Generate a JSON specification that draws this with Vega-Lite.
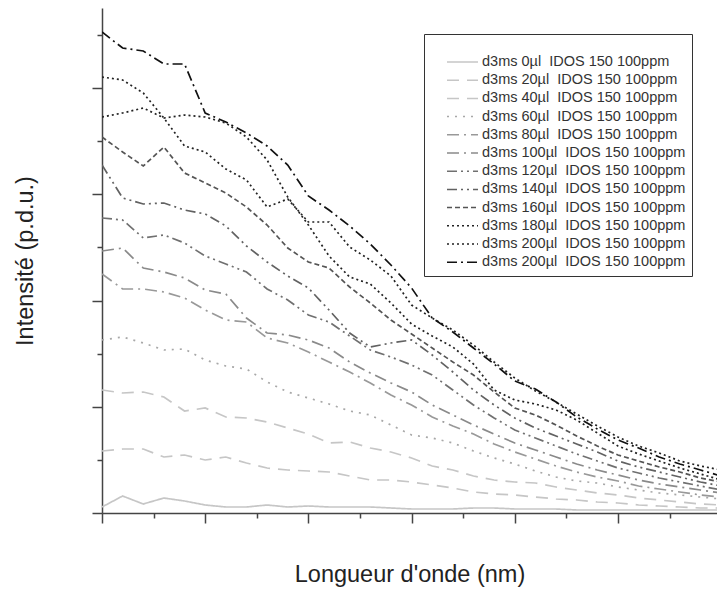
{"$schema":"https://vega.github.io/schema/vega-lite/v6.json","width":615,"height":505,"autosize":{"type":"none"},"padding":{"left":102,"top":8,"right":0,"bottom":79},"background":"white","config":{"view":{"stroke":null},"font":"Liberation Sans"},
"datasets":{"spectres":[
{"serie":"d3ms 0µl\u00a0 IDOS 150 100ppm","nm":300,"intensite":6},{"serie":"d3ms 0µl\u00a0 IDOS 150 100ppm","nm":305,"intensite":17},{"serie":"d3ms 0µl\u00a0 IDOS 150 100ppm","nm":310,"intensite":9},{"serie":"d3ms 0µl\u00a0 IDOS 150 100ppm","nm":315,"intensite":15},{"serie":"d3ms 0µl\u00a0 IDOS 150 100ppm","nm":320,"intensite":12},{"serie":"d3ms 0µl\u00a0 IDOS 150 100ppm","nm":325,"intensite":8},{"serie":"d3ms 0µl\u00a0 IDOS 150 100ppm","nm":330,"intensite":6},{"serie":"d3ms 0µl\u00a0 IDOS 150 100ppm","nm":335,"intensite":6},{"serie":"d3ms 0µl\u00a0 IDOS 150 100ppm","nm":340,"intensite":8},{"serie":"d3ms 0µl\u00a0 IDOS 150 100ppm","nm":345,"intensite":6},{"serie":"d3ms 0µl\u00a0 IDOS 150 100ppm","nm":350,"intensite":7},{"serie":"d3ms 0µl\u00a0 IDOS 150 100ppm","nm":355,"intensite":6},{"serie":"d3ms 0µl\u00a0 IDOS 150 100ppm","nm":360,"intensite":6},{"serie":"d3ms 0µl\u00a0 IDOS 150 100ppm","nm":365,"intensite":6},{"serie":"d3ms 0µl\u00a0 IDOS 150 100ppm","nm":370,"intensite":5},{"serie":"d3ms 0µl\u00a0 IDOS 150 100ppm","nm":375,"intensite":4},{"serie":"d3ms 0µl\u00a0 IDOS 150 100ppm","nm":380,"intensite":4},{"serie":"d3ms 0µl\u00a0 IDOS 150 100ppm","nm":385,"intensite":4},{"serie":"d3ms 0µl\u00a0 IDOS 150 100ppm","nm":390,"intensite":5},{"serie":"d3ms 0µl\u00a0 IDOS 150 100ppm","nm":395,"intensite":5},{"serie":"d3ms 0µl\u00a0 IDOS 150 100ppm","nm":400,"intensite":4},{"serie":"d3ms 0µl\u00a0 IDOS 150 100ppm","nm":405,"intensite":4},{"serie":"d3ms 0µl\u00a0 IDOS 150 100ppm","nm":410,"intensite":4},{"serie":"d3ms 0µl\u00a0 IDOS 150 100ppm","nm":415,"intensite":3},{"serie":"d3ms 0µl\u00a0 IDOS 150 100ppm","nm":420,"intensite":3},{"serie":"d3ms 0µl\u00a0 IDOS 150 100ppm","nm":425,"intensite":3},{"serie":"d3ms 0µl\u00a0 IDOS 150 100ppm","nm":430,"intensite":3},{"serie":"d3ms 0µl\u00a0 IDOS 150 100ppm","nm":435,"intensite":3},{"serie":"d3ms 0µl\u00a0 IDOS 150 100ppm","nm":440,"intensite":3},{"serie":"d3ms 0µl\u00a0 IDOS 150 100ppm","nm":445,"intensite":3},{"serie":"d3ms 0µl\u00a0 IDOS 150 100ppm","nm":450,"intensite":3},
{"serie":"d3ms 20µl\u00a0 IDOS 150 100ppm","nm":300,"intensite":62},{"serie":"d3ms 20µl\u00a0 IDOS 150 100ppm","nm":305,"intensite":64},{"serie":"d3ms 20µl\u00a0 IDOS 150 100ppm","nm":310,"intensite":64},{"serie":"d3ms 20µl\u00a0 IDOS 150 100ppm","nm":315,"intensite":56},{"serie":"d3ms 20µl\u00a0 IDOS 150 100ppm","nm":320,"intensite":58},{"serie":"d3ms 20µl\u00a0 IDOS 150 100ppm","nm":325,"intensite":53},{"serie":"d3ms 20µl\u00a0 IDOS 150 100ppm","nm":330,"intensite":56},{"serie":"d3ms 20µl\u00a0 IDOS 150 100ppm","nm":335,"intensite":50},{"serie":"d3ms 20µl\u00a0 IDOS 150 100ppm","nm":340,"intensite":45},{"serie":"d3ms 20µl\u00a0 IDOS 150 100ppm","nm":345,"intensite":43},{"serie":"d3ms 20µl\u00a0 IDOS 150 100ppm","nm":350,"intensite":42},{"serie":"d3ms 20µl\u00a0 IDOS 150 100ppm","nm":355,"intensite":41},{"serie":"d3ms 20µl\u00a0 IDOS 150 100ppm","nm":360,"intensite":37},{"serie":"d3ms 20µl\u00a0 IDOS 150 100ppm","nm":365,"intensite":33},{"serie":"d3ms 20µl\u00a0 IDOS 150 100ppm","nm":370,"intensite":33},{"serie":"d3ms 20µl\u00a0 IDOS 150 100ppm","nm":375,"intensite":31},{"serie":"d3ms 20µl\u00a0 IDOS 150 100ppm","nm":380,"intensite":28},{"serie":"d3ms 20µl\u00a0 IDOS 150 100ppm","nm":385,"intensite":25},{"serie":"d3ms 20µl\u00a0 IDOS 150 100ppm","nm":390,"intensite":21},{"serie":"d3ms 20µl\u00a0 IDOS 150 100ppm","nm":395,"intensite":19},{"serie":"d3ms 20µl\u00a0 IDOS 150 100ppm","nm":400,"intensite":18},{"serie":"d3ms 20µl\u00a0 IDOS 150 100ppm","nm":405,"intensite":16},{"serie":"d3ms 20µl\u00a0 IDOS 150 100ppm","nm":410,"intensite":14},{"serie":"d3ms 20µl\u00a0 IDOS 150 100ppm","nm":415,"intensite":13},{"serie":"d3ms 20µl\u00a0 IDOS 150 100ppm","nm":420,"intensite":11},{"serie":"d3ms 20µl\u00a0 IDOS 150 100ppm","nm":425,"intensite":10},{"serie":"d3ms 20µl\u00a0 IDOS 150 100ppm","nm":430,"intensite":8},{"serie":"d3ms 20µl\u00a0 IDOS 150 100ppm","nm":435,"intensite":7},{"serie":"d3ms 20µl\u00a0 IDOS 150 100ppm","nm":440,"intensite":6},{"serie":"d3ms 20µl\u00a0 IDOS 150 100ppm","nm":445,"intensite":5},{"serie":"d3ms 20µl\u00a0 IDOS 150 100ppm","nm":450,"intensite":5},
{"serie":"d3ms 40µl\u00a0 IDOS 150 100ppm","nm":300,"intensite":123},{"serie":"d3ms 40µl\u00a0 IDOS 150 100ppm","nm":305,"intensite":120},{"serie":"d3ms 40µl\u00a0 IDOS 150 100ppm","nm":310,"intensite":121},{"serie":"d3ms 40µl\u00a0 IDOS 150 100ppm","nm":315,"intensite":116},{"serie":"d3ms 40µl\u00a0 IDOS 150 100ppm","nm":320,"intensite":102},{"serie":"d3ms 40µl\u00a0 IDOS 150 100ppm","nm":325,"intensite":105},{"serie":"d3ms 40µl\u00a0 IDOS 150 100ppm","nm":330,"intensite":96},{"serie":"d3ms 40µl\u00a0 IDOS 150 100ppm","nm":335,"intensite":95},{"serie":"d3ms 40µl\u00a0 IDOS 150 100ppm","nm":340,"intensite":91},{"serie":"d3ms 40µl\u00a0 IDOS 150 100ppm","nm":345,"intensite":85},{"serie":"d3ms 40µl\u00a0 IDOS 150 100ppm","nm":350,"intensite":79},{"serie":"d3ms 40µl\u00a0 IDOS 150 100ppm","nm":355,"intensite":70},{"serie":"d3ms 40µl\u00a0 IDOS 150 100ppm","nm":360,"intensite":71},{"serie":"d3ms 40µl\u00a0 IDOS 150 100ppm","nm":365,"intensite":65},{"serie":"d3ms 40µl\u00a0 IDOS 150 100ppm","nm":370,"intensite":61},{"serie":"d3ms 40µl\u00a0 IDOS 150 100ppm","nm":375,"intensite":55},{"serie":"d3ms 40µl\u00a0 IDOS 150 100ppm","nm":380,"intensite":47},{"serie":"d3ms 40µl\u00a0 IDOS 150 100ppm","nm":385,"intensite":43},{"serie":"d3ms 40µl\u00a0 IDOS 150 100ppm","nm":390,"intensite":37},{"serie":"d3ms 40µl\u00a0 IDOS 150 100ppm","nm":395,"intensite":33},{"serie":"d3ms 40µl\u00a0 IDOS 150 100ppm","nm":400,"intensite":31},{"serie":"d3ms 40µl\u00a0 IDOS 150 100ppm","nm":405,"intensite":30},{"serie":"d3ms 40µl\u00a0 IDOS 150 100ppm","nm":410,"intensite":26},{"serie":"d3ms 40µl\u00a0 IDOS 150 100ppm","nm":415,"intensite":23},{"serie":"d3ms 40µl\u00a0 IDOS 150 100ppm","nm":420,"intensite":20},{"serie":"d3ms 40µl\u00a0 IDOS 150 100ppm","nm":425,"intensite":18},{"serie":"d3ms 40µl\u00a0 IDOS 150 100ppm","nm":430,"intensite":15},{"serie":"d3ms 40µl\u00a0 IDOS 150 100ppm","nm":435,"intensite":13},{"serie":"d3ms 40µl\u00a0 IDOS 150 100ppm","nm":440,"intensite":11},{"serie":"d3ms 40µl\u00a0 IDOS 150 100ppm","nm":445,"intensite":9},{"serie":"d3ms 40µl\u00a0 IDOS 150 100ppm","nm":450,"intensite":8},
{"serie":"d3ms 60µl\u00a0 IDOS 150 100ppm","nm":300,"intensite":173},{"serie":"d3ms 60µl\u00a0 IDOS 150 100ppm","nm":305,"intensite":176},{"serie":"d3ms 60µl\u00a0 IDOS 150 100ppm","nm":310,"intensite":170},{"serie":"d3ms 60µl\u00a0 IDOS 150 100ppm","nm":315,"intensite":163},{"serie":"d3ms 60µl\u00a0 IDOS 150 100ppm","nm":320,"intensite":164},{"serie":"d3ms 60µl\u00a0 IDOS 150 100ppm","nm":325,"intensite":153},{"serie":"d3ms 60µl\u00a0 IDOS 150 100ppm","nm":330,"intensite":147},{"serie":"d3ms 60µl\u00a0 IDOS 150 100ppm","nm":335,"intensite":144},{"serie":"d3ms 60µl\u00a0 IDOS 150 100ppm","nm":340,"intensite":131},{"serie":"d3ms 60µl\u00a0 IDOS 150 100ppm","nm":345,"intensite":121},{"serie":"d3ms 60µl\u00a0 IDOS 150 100ppm","nm":350,"intensite":115},{"serie":"d3ms 60µl\u00a0 IDOS 150 100ppm","nm":355,"intensite":109},{"serie":"d3ms 60µl\u00a0 IDOS 150 100ppm","nm":360,"intensite":102},{"serie":"d3ms 60µl\u00a0 IDOS 150 100ppm","nm":365,"intensite":98},{"serie":"d3ms 60µl\u00a0 IDOS 150 100ppm","nm":370,"intensite":88},{"serie":"d3ms 60µl\u00a0 IDOS 150 100ppm","nm":375,"intensite":78},{"serie":"d3ms 60µl\u00a0 IDOS 150 100ppm","nm":380,"intensite":75},{"serie":"d3ms 60µl\u00a0 IDOS 150 100ppm","nm":385,"intensite":70},{"serie":"d3ms 60µl\u00a0 IDOS 150 100ppm","nm":390,"intensite":62},{"serie":"d3ms 60µl\u00a0 IDOS 150 100ppm","nm":395,"intensite":55},{"serie":"d3ms 60µl\u00a0 IDOS 150 100ppm","nm":400,"intensite":49},{"serie":"d3ms 60µl\u00a0 IDOS 150 100ppm","nm":405,"intensite":42},{"serie":"d3ms 60µl\u00a0 IDOS 150 100ppm","nm":410,"intensite":36},{"serie":"d3ms 60µl\u00a0 IDOS 150 100ppm","nm":415,"intensite":32},{"serie":"d3ms 60µl\u00a0 IDOS 150 100ppm","nm":420,"intensite":30},{"serie":"d3ms 60µl\u00a0 IDOS 150 100ppm","nm":425,"intensite":26},{"serie":"d3ms 60µl\u00a0 IDOS 150 100ppm","nm":430,"intensite":23},{"serie":"d3ms 60µl\u00a0 IDOS 150 100ppm","nm":435,"intensite":20},{"serie":"d3ms 60µl\u00a0 IDOS 150 100ppm","nm":440,"intensite":18},{"serie":"d3ms 60µl\u00a0 IDOS 150 100ppm","nm":445,"intensite":16},{"serie":"d3ms 60µl\u00a0 IDOS 150 100ppm","nm":450,"intensite":14},
{"serie":"d3ms 80µl\u00a0 IDOS 150 100ppm","nm":300,"intensite":239},{"serie":"d3ms 80µl\u00a0 IDOS 150 100ppm","nm":305,"intensite":224},{"serie":"d3ms 80µl\u00a0 IDOS 150 100ppm","nm":310,"intensite":224},{"serie":"d3ms 80µl\u00a0 IDOS 150 100ppm","nm":315,"intensite":221},{"serie":"d3ms 80µl\u00a0 IDOS 150 100ppm","nm":320,"intensite":215},{"serie":"d3ms 80µl\u00a0 IDOS 150 100ppm","nm":325,"intensite":203},{"serie":"d3ms 80µl\u00a0 IDOS 150 100ppm","nm":330,"intensite":193},{"serie":"d3ms 80µl\u00a0 IDOS 150 100ppm","nm":335,"intensite":191},{"serie":"d3ms 80µl\u00a0 IDOS 150 100ppm","nm":340,"intensite":175},{"serie":"d3ms 80µl\u00a0 IDOS 150 100ppm","nm":345,"intensite":170},{"serie":"d3ms 80µl\u00a0 IDOS 150 100ppm","nm":350,"intensite":161},{"serie":"d3ms 80µl\u00a0 IDOS 150 100ppm","nm":355,"intensite":151},{"serie":"d3ms 80µl\u00a0 IDOS 150 100ppm","nm":360,"intensite":141},{"serie":"d3ms 80µl\u00a0 IDOS 150 100ppm","nm":365,"intensite":130},{"serie":"d3ms 80µl\u00a0 IDOS 150 100ppm","nm":370,"intensite":118},{"serie":"d3ms 80µl\u00a0 IDOS 150 100ppm","nm":375,"intensite":108},{"serie":"d3ms 80µl\u00a0 IDOS 150 100ppm","nm":380,"intensite":96},{"serie":"d3ms 80µl\u00a0 IDOS 150 100ppm","nm":385,"intensite":87},{"serie":"d3ms 80µl\u00a0 IDOS 150 100ppm","nm":390,"intensite":79},{"serie":"d3ms 80µl\u00a0 IDOS 150 100ppm","nm":395,"intensite":69},{"serie":"d3ms 80µl\u00a0 IDOS 150 100ppm","nm":400,"intensite":61},{"serie":"d3ms 80µl\u00a0 IDOS 150 100ppm","nm":405,"intensite":54},{"serie":"d3ms 80µl\u00a0 IDOS 150 100ppm","nm":410,"intensite":47},{"serie":"d3ms 80µl\u00a0 IDOS 150 100ppm","nm":415,"intensite":41},{"serie":"d3ms 80µl\u00a0 IDOS 150 100ppm","nm":420,"intensite":36},{"serie":"d3ms 80µl\u00a0 IDOS 150 100ppm","nm":425,"intensite":32},{"serie":"d3ms 80µl\u00a0 IDOS 150 100ppm","nm":430,"intensite":27},{"serie":"d3ms 80µl\u00a0 IDOS 150 100ppm","nm":435,"intensite":24},{"serie":"d3ms 80µl\u00a0 IDOS 150 100ppm","nm":440,"intensite":21},{"serie":"d3ms 80µl\u00a0 IDOS 150 100ppm","nm":445,"intensite":18},{"serie":"d3ms 80µl\u00a0 IDOS 150 100ppm","nm":450,"intensite":16},
{"serie":"d3ms 100µl\u00a0 IDOS 150 100ppm","nm":300,"intensite":262},{"serie":"d3ms 100µl\u00a0 IDOS 150 100ppm","nm":305,"intensite":265},{"serie":"d3ms 100µl\u00a0 IDOS 150 100ppm","nm":310,"intensite":245},{"serie":"d3ms 100µl\u00a0 IDOS 150 100ppm","nm":315,"intensite":241},{"serie":"d3ms 100µl\u00a0 IDOS 150 100ppm","nm":320,"intensite":235},{"serie":"d3ms 100µl\u00a0 IDOS 150 100ppm","nm":325,"intensite":223},{"serie":"d3ms 100µl\u00a0 IDOS 150 100ppm","nm":330,"intensite":219},{"serie":"d3ms 100µl\u00a0 IDOS 150 100ppm","nm":335,"intensite":195},{"serie":"d3ms 100µl\u00a0 IDOS 150 100ppm","nm":340,"intensite":180},{"serie":"d3ms 100µl\u00a0 IDOS 150 100ppm","nm":345,"intensite":178},{"serie":"d3ms 100µl\u00a0 IDOS 150 100ppm","nm":350,"intensite":173},{"serie":"d3ms 100µl\u00a0 IDOS 150 100ppm","nm":355,"intensite":165},{"serie":"d3ms 100µl\u00a0 IDOS 150 100ppm","nm":360,"intensite":151},{"serie":"d3ms 100µl\u00a0 IDOS 150 100ppm","nm":365,"intensite":140},{"serie":"d3ms 100µl\u00a0 IDOS 150 100ppm","nm":370,"intensite":130},{"serie":"d3ms 100µl\u00a0 IDOS 150 100ppm","nm":375,"intensite":121},{"serie":"d3ms 100µl\u00a0 IDOS 150 100ppm","nm":380,"intensite":108},{"serie":"d3ms 100µl\u00a0 IDOS 150 100ppm","nm":385,"intensite":98},{"serie":"d3ms 100µl\u00a0 IDOS 150 100ppm","nm":390,"intensite":88},{"serie":"d3ms 100µl\u00a0 IDOS 150 100ppm","nm":395,"intensite":79},{"serie":"d3ms 100µl\u00a0 IDOS 150 100ppm","nm":400,"intensite":70},{"serie":"d3ms 100µl\u00a0 IDOS 150 100ppm","nm":405,"intensite":63},{"serie":"d3ms 100µl\u00a0 IDOS 150 100ppm","nm":410,"intensite":56},{"serie":"d3ms 100µl\u00a0 IDOS 150 100ppm","nm":415,"intensite":49},{"serie":"d3ms 100µl\u00a0 IDOS 150 100ppm","nm":420,"intensite":43},{"serie":"d3ms 100µl\u00a0 IDOS 150 100ppm","nm":425,"intensite":38},{"serie":"d3ms 100µl\u00a0 IDOS 150 100ppm","nm":430,"intensite":33},{"serie":"d3ms 100µl\u00a0 IDOS 150 100ppm","nm":435,"intensite":29},{"serie":"d3ms 100µl\u00a0 IDOS 150 100ppm","nm":440,"intensite":26},{"serie":"d3ms 100µl\u00a0 IDOS 150 100ppm","nm":445,"intensite":23},{"serie":"d3ms 100µl\u00a0 IDOS 150 100ppm","nm":450,"intensite":20},
{"serie":"d3ms 120µl\u00a0 IDOS 150 100ppm","nm":300,"intensite":295},{"serie":"d3ms 120µl\u00a0 IDOS 150 100ppm","nm":305,"intensite":293},{"serie":"d3ms 120µl\u00a0 IDOS 150 100ppm","nm":310,"intensite":275},{"serie":"d3ms 120µl\u00a0 IDOS 150 100ppm","nm":315,"intensite":278},{"serie":"d3ms 120µl\u00a0 IDOS 150 100ppm","nm":320,"intensite":270},{"serie":"d3ms 120µl\u00a0 IDOS 150 100ppm","nm":325,"intensite":257},{"serie":"d3ms 120µl\u00a0 IDOS 150 100ppm","nm":330,"intensite":249},{"serie":"d3ms 120µl\u00a0 IDOS 150 100ppm","nm":335,"intensite":241},{"serie":"d3ms 120µl\u00a0 IDOS 150 100ppm","nm":340,"intensite":224},{"serie":"d3ms 120µl\u00a0 IDOS 150 100ppm","nm":345,"intensite":213},{"serie":"d3ms 120µl\u00a0 IDOS 150 100ppm","nm":350,"intensite":198},{"serie":"d3ms 120µl\u00a0 IDOS 150 100ppm","nm":355,"intensite":191},{"serie":"d3ms 120µl\u00a0 IDOS 150 100ppm","nm":360,"intensite":177},{"serie":"d3ms 120µl\u00a0 IDOS 150 100ppm","nm":365,"intensite":163},{"serie":"d3ms 120µl\u00a0 IDOS 150 100ppm","nm":370,"intensite":156},{"serie":"d3ms 120µl\u00a0 IDOS 150 100ppm","nm":375,"intensite":148},{"serie":"d3ms 120µl\u00a0 IDOS 150 100ppm","nm":380,"intensite":138},{"serie":"d3ms 120µl\u00a0 IDOS 150 100ppm","nm":385,"intensite":123},{"serie":"d3ms 120µl\u00a0 IDOS 150 100ppm","nm":390,"intensite":108},{"serie":"d3ms 120µl\u00a0 IDOS 150 100ppm","nm":395,"intensite":95},{"serie":"d3ms 120µl\u00a0 IDOS 150 100ppm","nm":400,"intensite":83},{"serie":"d3ms 120µl\u00a0 IDOS 150 100ppm","nm":405,"intensite":75},{"serie":"d3ms 120µl\u00a0 IDOS 150 100ppm","nm":410,"intensite":67},{"serie":"d3ms 120µl\u00a0 IDOS 150 100ppm","nm":415,"intensite":59},{"serie":"d3ms 120µl\u00a0 IDOS 150 100ppm","nm":420,"intensite":52},{"serie":"d3ms 120µl\u00a0 IDOS 150 100ppm","nm":425,"intensite":45},{"serie":"d3ms 120µl\u00a0 IDOS 150 100ppm","nm":430,"intensite":40},{"serie":"d3ms 120µl\u00a0 IDOS 150 100ppm","nm":435,"intensite":35},{"serie":"d3ms 120µl\u00a0 IDOS 150 100ppm","nm":440,"intensite":31},{"serie":"d3ms 120µl\u00a0 IDOS 150 100ppm","nm":445,"intensite":27},{"serie":"d3ms 120µl\u00a0 IDOS 150 100ppm","nm":450,"intensite":23},
{"serie":"d3ms 140µl\u00a0 IDOS 150 100ppm","nm":300,"intensite":348},{"serie":"d3ms 140µl\u00a0 IDOS 150 100ppm","nm":305,"intensite":315},{"serie":"d3ms 140µl\u00a0 IDOS 150 100ppm","nm":310,"intensite":309},{"serie":"d3ms 140µl\u00a0 IDOS 150 100ppm","nm":315,"intensite":310},{"serie":"d3ms 140µl\u00a0 IDOS 150 100ppm","nm":320,"intensite":303},{"serie":"d3ms 140µl\u00a0 IDOS 150 100ppm","nm":325,"intensite":299},{"serie":"d3ms 140µl\u00a0 IDOS 150 100ppm","nm":330,"intensite":287},{"serie":"d3ms 140µl\u00a0 IDOS 150 100ppm","nm":335,"intensite":267},{"serie":"d3ms 140µl\u00a0 IDOS 150 100ppm","nm":340,"intensite":251},{"serie":"d3ms 140µl\u00a0 IDOS 150 100ppm","nm":345,"intensite":237},{"serie":"d3ms 140µl\u00a0 IDOS 150 100ppm","nm":350,"intensite":225},{"serie":"d3ms 140µl\u00a0 IDOS 150 100ppm","nm":355,"intensite":203},{"serie":"d3ms 140µl\u00a0 IDOS 150 100ppm","nm":360,"intensite":180},{"serie":"d3ms 140µl\u00a0 IDOS 150 100ppm","nm":365,"intensite":166},{"serie":"d3ms 140µl\u00a0 IDOS 150 100ppm","nm":370,"intensite":170},{"serie":"d3ms 140µl\u00a0 IDOS 150 100ppm","nm":375,"intensite":173},{"serie":"d3ms 140µl\u00a0 IDOS 150 100ppm","nm":380,"intensite":158},{"serie":"d3ms 140µl\u00a0 IDOS 150 100ppm","nm":385,"intensite":141},{"serie":"d3ms 140µl\u00a0 IDOS 150 100ppm","nm":390,"intensite":123},{"serie":"d3ms 140µl\u00a0 IDOS 150 100ppm","nm":395,"intensite":108},{"serie":"d3ms 140µl\u00a0 IDOS 150 100ppm","nm":400,"intensite":95},{"serie":"d3ms 140µl\u00a0 IDOS 150 100ppm","nm":405,"intensite":85},{"serie":"d3ms 140µl\u00a0 IDOS 150 100ppm","nm":410,"intensite":77},{"serie":"d3ms 140µl\u00a0 IDOS 150 100ppm","nm":415,"intensite":69},{"serie":"d3ms 140µl\u00a0 IDOS 150 100ppm","nm":420,"intensite":61},{"serie":"d3ms 140µl\u00a0 IDOS 150 100ppm","nm":425,"intensite":52},{"serie":"d3ms 140µl\u00a0 IDOS 150 100ppm","nm":430,"intensite":46},{"serie":"d3ms 140µl\u00a0 IDOS 150 100ppm","nm":435,"intensite":41},{"serie":"d3ms 140µl\u00a0 IDOS 150 100ppm","nm":440,"intensite":36},{"serie":"d3ms 140µl\u00a0 IDOS 150 100ppm","nm":445,"intensite":31},{"serie":"d3ms 140µl\u00a0 IDOS 150 100ppm","nm":450,"intensite":27},
{"serie":"d3ms 160µl\u00a0 IDOS 150 100ppm","nm":300,"intensite":376},{"serie":"d3ms 160µl\u00a0 IDOS 150 100ppm","nm":305,"intensite":361},{"serie":"d3ms 160µl\u00a0 IDOS 150 100ppm","nm":310,"intensite":347},{"serie":"d3ms 160µl\u00a0 IDOS 150 100ppm","nm":315,"intensite":366},{"serie":"d3ms 160µl\u00a0 IDOS 150 100ppm","nm":320,"intensite":340},{"serie":"d3ms 160µl\u00a0 IDOS 150 100ppm","nm":325,"intensite":330},{"serie":"d3ms 160µl\u00a0 IDOS 150 100ppm","nm":330,"intensite":320},{"serie":"d3ms 160µl\u00a0 IDOS 150 100ppm","nm":335,"intensite":306},{"serie":"d3ms 160µl\u00a0 IDOS 150 100ppm","nm":340,"intensite":288},{"serie":"d3ms 160µl\u00a0 IDOS 150 100ppm","nm":345,"intensite":265},{"serie":"d3ms 160µl\u00a0 IDOS 150 100ppm","nm":350,"intensite":251},{"serie":"d3ms 160µl\u00a0 IDOS 150 100ppm","nm":355,"intensite":245},{"serie":"d3ms 160µl\u00a0 IDOS 150 100ppm","nm":360,"intensite":226},{"serie":"d3ms 160µl\u00a0 IDOS 150 100ppm","nm":365,"intensite":210},{"serie":"d3ms 160µl\u00a0 IDOS 150 100ppm","nm":370,"intensite":193},{"serie":"d3ms 160µl\u00a0 IDOS 150 100ppm","nm":375,"intensite":179},{"serie":"d3ms 160µl\u00a0 IDOS 150 100ppm","nm":380,"intensite":165},{"serie":"d3ms 160µl\u00a0 IDOS 150 100ppm","nm":385,"intensite":151},{"serie":"d3ms 160µl\u00a0 IDOS 150 100ppm","nm":390,"intensite":138},{"serie":"d3ms 160µl\u00a0 IDOS 150 100ppm","nm":395,"intensite":121},{"serie":"d3ms 160µl\u00a0 IDOS 150 100ppm","nm":400,"intensite":105},{"serie":"d3ms 160µl\u00a0 IDOS 150 100ppm","nm":405,"intensite":98},{"serie":"d3ms 160µl\u00a0 IDOS 150 100ppm","nm":410,"intensite":88},{"serie":"d3ms 160µl\u00a0 IDOS 150 100ppm","nm":415,"intensite":77},{"serie":"d3ms 160µl\u00a0 IDOS 150 100ppm","nm":420,"intensite":67},{"serie":"d3ms 160µl\u00a0 IDOS 150 100ppm","nm":425,"intensite":58},{"serie":"d3ms 160µl\u00a0 IDOS 150 100ppm","nm":430,"intensite":52},{"serie":"d3ms 160µl\u00a0 IDOS 150 100ppm","nm":435,"intensite":46},{"serie":"d3ms 160µl\u00a0 IDOS 150 100ppm","nm":440,"intensite":41},{"serie":"d3ms 160µl\u00a0 IDOS 150 100ppm","nm":445,"intensite":35},{"serie":"d3ms 160µl\u00a0 IDOS 150 100ppm","nm":450,"intensite":31},
{"serie":"d3ms 180µl\u00a0 IDOS 150 100ppm","nm":300,"intensite":396},{"serie":"d3ms 180µl\u00a0 IDOS 150 100ppm","nm":305,"intensite":400},{"serie":"d3ms 180µl\u00a0 IDOS 150 100ppm","nm":310,"intensite":405},{"serie":"d3ms 180µl\u00a0 IDOS 150 100ppm","nm":315,"intensite":395},{"serie":"d3ms 180µl\u00a0 IDOS 150 100ppm","nm":320,"intensite":398},{"serie":"d3ms 180µl\u00a0 IDOS 150 100ppm","nm":325,"intensite":396},{"serie":"d3ms 180µl\u00a0 IDOS 150 100ppm","nm":330,"intensite":390},{"serie":"d3ms 180µl\u00a0 IDOS 150 100ppm","nm":335,"intensite":376},{"serie":"d3ms 180µl\u00a0 IDOS 150 100ppm","nm":340,"intensite":353},{"serie":"d3ms 180µl\u00a0 IDOS 150 100ppm","nm":345,"intensite":316},{"serie":"d3ms 180µl\u00a0 IDOS 150 100ppm","nm":350,"intensite":288},{"serie":"d3ms 180µl\u00a0 IDOS 150 100ppm","nm":355,"intensite":257},{"serie":"d3ms 180µl\u00a0 IDOS 150 100ppm","nm":360,"intensite":236},{"serie":"d3ms 180µl\u00a0 IDOS 150 100ppm","nm":365,"intensite":229},{"serie":"d3ms 180µl\u00a0 IDOS 150 100ppm","nm":370,"intensite":210},{"serie":"d3ms 180µl\u00a0 IDOS 150 100ppm","nm":375,"intensite":189},{"serie":"d3ms 180µl\u00a0 IDOS 150 100ppm","nm":380,"intensite":177},{"serie":"d3ms 180µl\u00a0 IDOS 150 100ppm","nm":385,"intensite":166},{"serie":"d3ms 180µl\u00a0 IDOS 150 100ppm","nm":390,"intensite":149},{"serie":"d3ms 180µl\u00a0 IDOS 150 100ppm","nm":395,"intensite":123},{"serie":"d3ms 180µl\u00a0 IDOS 150 100ppm","nm":400,"intensite":113},{"serie":"d3ms 180µl\u00a0 IDOS 150 100ppm","nm":405,"intensite":109},{"serie":"d3ms 180µl\u00a0 IDOS 150 100ppm","nm":410,"intensite":103},{"serie":"d3ms 180µl\u00a0 IDOS 150 100ppm","nm":415,"intensite":93},{"serie":"d3ms 180µl\u00a0 IDOS 150 100ppm","nm":420,"intensite":80},{"serie":"d3ms 180µl\u00a0 IDOS 150 100ppm","nm":425,"intensite":67},{"serie":"d3ms 180µl\u00a0 IDOS 150 100ppm","nm":430,"intensite":59},{"serie":"d3ms 180µl\u00a0 IDOS 150 100ppm","nm":435,"intensite":52},{"serie":"d3ms 180µl\u00a0 IDOS 150 100ppm","nm":440,"intensite":45},{"serie":"d3ms 180µl\u00a0 IDOS 150 100ppm","nm":445,"intensite":39},{"serie":"d3ms 180µl\u00a0 IDOS 150 100ppm","nm":450,"intensite":33},
{"serie":"d3ms 200µl\u00a0 IDOS 150 100ppm","nm":300,"intensite":436},{"serie":"d3ms 200µl\u00a0 IDOS 150 100ppm","nm":305,"intensite":433},{"serie":"d3ms 200µl\u00a0 IDOS 150 100ppm","nm":310,"intensite":420},{"serie":"d3ms 200µl\u00a0 IDOS 150 100ppm","nm":315,"intensite":395},{"serie":"d3ms 200µl\u00a0 IDOS 150 100ppm","nm":320,"intensite":367},{"serie":"d3ms 200µl\u00a0 IDOS 150 100ppm","nm":325,"intensite":361},{"serie":"d3ms 200µl\u00a0 IDOS 150 100ppm","nm":330,"intensite":344},{"serie":"d3ms 200µl\u00a0 IDOS 150 100ppm","nm":335,"intensite":333},{"serie":"d3ms 200µl\u00a0 IDOS 150 100ppm","nm":340,"intensite":306},{"serie":"d3ms 200µl\u00a0 IDOS 150 100ppm","nm":345,"intensite":314},{"serie":"d3ms 200µl\u00a0 IDOS 150 100ppm","nm":350,"intensite":291},{"serie":"d3ms 200µl\u00a0 IDOS 150 100ppm","nm":355,"intensite":291},{"serie":"d3ms 200µl\u00a0 IDOS 150 100ppm","nm":360,"intensite":266},{"serie":"d3ms 200µl\u00a0 IDOS 150 100ppm","nm":365,"intensite":253},{"serie":"d3ms 200µl\u00a0 IDOS 150 100ppm","nm":370,"intensite":237},{"serie":"d3ms 200µl\u00a0 IDOS 150 100ppm","nm":375,"intensite":208},{"serie":"d3ms 200µl\u00a0 IDOS 150 100ppm","nm":380,"intensite":195},{"serie":"d3ms 200µl\u00a0 IDOS 150 100ppm","nm":385,"intensite":183},{"serie":"d3ms 200µl\u00a0 IDOS 150 100ppm","nm":390,"intensite":168},{"serie":"d3ms 200µl\u00a0 IDOS 150 100ppm","nm":395,"intensite":151},{"serie":"d3ms 200µl\u00a0 IDOS 150 100ppm","nm":400,"intensite":135},{"serie":"d3ms 200µl\u00a0 IDOS 150 100ppm","nm":405,"intensite":122},{"serie":"d3ms 200µl\u00a0 IDOS 150 100ppm","nm":410,"intensite":111},{"serie":"d3ms 200µl\u00a0 IDOS 150 100ppm","nm":415,"intensite":99},{"serie":"d3ms 200µl\u00a0 IDOS 150 100ppm","nm":420,"intensite":87},{"serie":"d3ms 200µl\u00a0 IDOS 150 100ppm","nm":425,"intensite":76},{"serie":"d3ms 200µl\u00a0 IDOS 150 100ppm","nm":430,"intensite":67},{"serie":"d3ms 200µl\u00a0 IDOS 150 100ppm","nm":435,"intensite":60},{"serie":"d3ms 200µl\u00a0 IDOS 150 100ppm","nm":440,"intensite":52},{"serie":"d3ms 200µl\u00a0 IDOS 150 100ppm","nm":445,"intensite":47},{"serie":"d3ms 200µl\u00a0 IDOS 150 100ppm","nm":450,"intensite":43},
{"serie":"d3ms 200µl\u00a0 IDOS 150 100ppm (2)","nm":300,"intensite":481},{"serie":"d3ms 200µl\u00a0 IDOS 150 100ppm (2)","nm":305,"intensite":465},{"serie":"d3ms 200µl\u00a0 IDOS 150 100ppm (2)","nm":310,"intensite":462},{"serie":"d3ms 200µl\u00a0 IDOS 150 100ppm (2)","nm":315,"intensite":449},{"serie":"d3ms 200µl\u00a0 IDOS 150 100ppm (2)","nm":320,"intensite":449},{"serie":"d3ms 200µl\u00a0 IDOS 150 100ppm (2)","nm":325,"intensite":400},{"serie":"d3ms 200µl\u00a0 IDOS 150 100ppm (2)","nm":330,"intensite":391},{"serie":"d3ms 200µl\u00a0 IDOS 150 100ppm (2)","nm":335,"intensite":380},{"serie":"d3ms 200µl\u00a0 IDOS 150 100ppm (2)","nm":340,"intensite":367},{"serie":"d3ms 200µl\u00a0 IDOS 150 100ppm (2)","nm":345,"intensite":348},{"serie":"d3ms 200µl\u00a0 IDOS 150 100ppm (2)","nm":350,"intensite":317},{"serie":"d3ms 200µl\u00a0 IDOS 150 100ppm (2)","nm":355,"intensite":303},{"serie":"d3ms 200µl\u00a0 IDOS 150 100ppm (2)","nm":360,"intensite":287},{"serie":"d3ms 200µl\u00a0 IDOS 150 100ppm (2)","nm":365,"intensite":269},{"serie":"d3ms 200µl\u00a0 IDOS 150 100ppm (2)","nm":370,"intensite":248},{"serie":"d3ms 200µl\u00a0 IDOS 150 100ppm (2)","nm":375,"intensite":225},{"serie":"d3ms 200µl\u00a0 IDOS 150 100ppm (2)","nm":380,"intensite":195},{"serie":"d3ms 200µl\u00a0 IDOS 150 100ppm (2)","nm":385,"intensite":181},{"serie":"d3ms 200µl\u00a0 IDOS 150 100ppm (2)","nm":390,"intensite":165},{"serie":"d3ms 200µl\u00a0 IDOS 150 100ppm (2)","nm":395,"intensite":149},{"serie":"d3ms 200µl\u00a0 IDOS 150 100ppm (2)","nm":400,"intensite":132},{"serie":"d3ms 200µl\u00a0 IDOS 150 100ppm (2)","nm":405,"intensite":124},{"serie":"d3ms 200µl\u00a0 IDOS 150 100ppm (2)","nm":410,"intensite":111},{"serie":"d3ms 200µl\u00a0 IDOS 150 100ppm (2)","nm":415,"intensite":96},{"serie":"d3ms 200µl\u00a0 IDOS 150 100ppm (2)","nm":420,"intensite":84},{"serie":"d3ms 200µl\u00a0 IDOS 150 100ppm (2)","nm":425,"intensite":73},{"serie":"d3ms 200µl\u00a0 IDOS 150 100ppm (2)","nm":430,"intensite":65},{"serie":"d3ms 200µl\u00a0 IDOS 150 100ppm (2)","nm":435,"intensite":56},{"serie":"d3ms 200µl\u00a0 IDOS 150 100ppm (2)","nm":440,"intensite":49},{"serie":"d3ms 200µl\u00a0 IDOS 150 100ppm (2)","nm":445,"intensite":43},{"serie":"d3ms 200µl\u00a0 IDOS 150 100ppm (2)","nm":450,"intensite":37}
]},
"data":{"name":"spectres"},
"layer":[
{"mark":{"type":"line","strokeWidth":1.7,"clip":true},
"encoding":{
"x":{"field":"nm","type":"quantitative","scale":{"domain":[300,449],"nice":false,"zero":false},"axis":{"orient":"bottom","values":[300,325,350,375,400,425],"labels":false,"grid":false,"tickSize":10,"tickWidth":1.5,"tickColor":"#444","domainColor":"#444","domainWidth":1.5,"title":"Longueur d'onde (nm)","titleFont":"Liberation Sans","titleFontSize":23.5,"titleFontWeight":"normal","titleColor":"#222","titlePadding":39}},
"y":{"field":"intensite","type":"quantitative","scale":{"domain":[0,505],"nice":false},"axis":{"orient":"left","values":[0,106.25,212.5,318.75,425],"labels":false,"grid":false,"tickSize":10,"tickWidth":1.5,"tickColor":"#444","domainColor":"#444","domainWidth":1.5,"title":"Intensité (p.d.u.)","titleFont":"Liberation Sans","titleFontSize":23.5,"titleFontWeight":"normal","titleColor":"#222","titlePadding":54}},
"color":{"field":"serie","type":"nominal","scale":{"domain":["d3ms 0µl\u00a0 IDOS 150 100ppm","d3ms 20µl\u00a0 IDOS 150 100ppm","d3ms 40µl\u00a0 IDOS 150 100ppm","d3ms 60µl\u00a0 IDOS 150 100ppm","d3ms 80µl\u00a0 IDOS 150 100ppm","d3ms 100µl\u00a0 IDOS 150 100ppm","d3ms 120µl\u00a0 IDOS 150 100ppm","d3ms 140µl\u00a0 IDOS 150 100ppm","d3ms 160µl\u00a0 IDOS 150 100ppm","d3ms 180µl\u00a0 IDOS 150 100ppm","d3ms 200µl\u00a0 IDOS 150 100ppm","d3ms 200µl\u00a0 IDOS 150 100ppm (2)"],"range":["#c6c6c6","#c6c6c6","#c6c6c6","#a8a8a8","#999999","#8a8a8a","#707070","#626262","#555555","#222222","#222222","#111111"]},
"legend":{"orient":"none","legendX":322,"legendY":26,"title":" ","titleFontSize":10,"titlePadding":5,"padding":6,"strokeColor":"#333","fillColor":"white","clipHeight":14,"rowPadding":3.2,"symbolType":"stroke","symbolSize":961,"symbolStrokeWidth":1.5,"symbolOffset":16,"labelOffset":3,"labelFontSize":14.5,"labelFont":"Liberation Sans","labelColor":"#333","labelLimit":400,"labelExpr":"replace(datum.label, ' (2)', '')"}},
"strokeDash":{"field":"serie","type":"nominal","scale":{"domain":["d3ms 0µl\u00a0 IDOS 150 100ppm","d3ms 20µl\u00a0 IDOS 150 100ppm","d3ms 40µl\u00a0 IDOS 150 100ppm","d3ms 60µl\u00a0 IDOS 150 100ppm","d3ms 80µl\u00a0 IDOS 150 100ppm","d3ms 100µl\u00a0 IDOS 150 100ppm","d3ms 120µl\u00a0 IDOS 150 100ppm","d3ms 140µl\u00a0 IDOS 150 100ppm","d3ms 160µl\u00a0 IDOS 150 100ppm","d3ms 180µl\u00a0 IDOS 150 100ppm","d3ms 200µl\u00a0 IDOS 150 100ppm","d3ms 200µl\u00a0 IDOS 150 100ppm (2)"],"range":[[1,0],[12,8],[12,8],[2,6],[12,5,2,5],[12,5,2,5],[10,4,2,4,2,4],[10,4,2,4,2,4],[5,3],[2,3],[2,3],[10,4,2,4]]}}
}},
{"mark":{"type":"line","opacity":0,"clip":true},
"encoding":{
"x":{"field":"nm","type":"quantitative","axis":{"orient":"bottom","values":[312.5,337.5,362.5,387.5,412.5,437.5],"labels":false,"grid":false,"domain":false,"tickSize":5,"tickWidth":1.5,"tickColor":"#444","title":null}},
"y":{"field":"intensite","type":"quantitative","axis":{"orient":"left","values":[53.125,159.375,265.625,371.875,478.125],"labels":false,"grid":false,"domain":false,"tickSize":5,"tickWidth":1.5,"tickColor":"#444","title":null}},
"detail":{"field":"serie"}
}}
],
"resolve":{"axis":{"x":"independent","y":"independent"}}
}
